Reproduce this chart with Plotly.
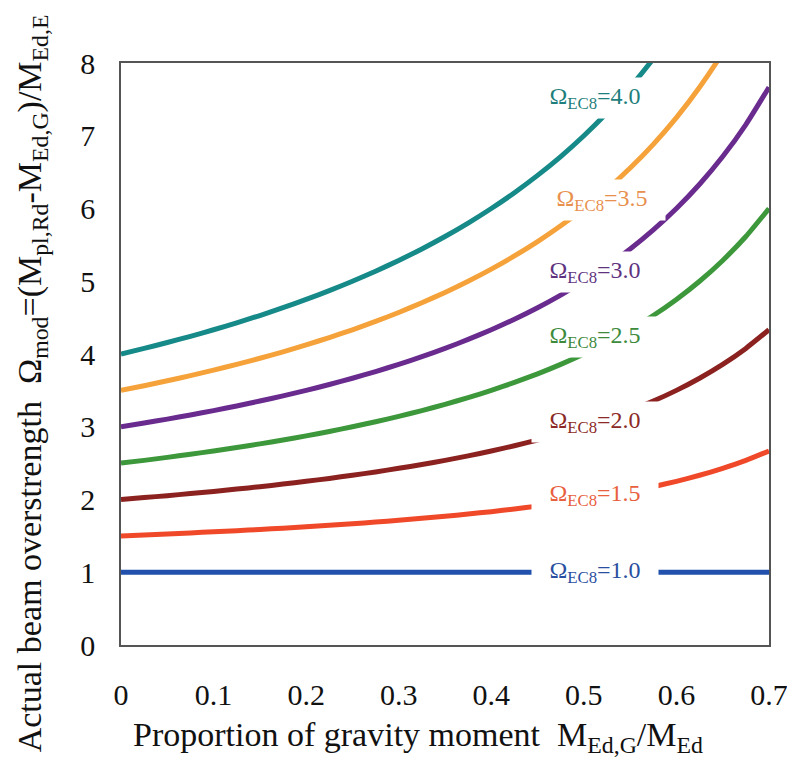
import plotly.graph_objects as go

# Proportion of gravity moment M_Ed,G / M_Ed
x_vals = [0, 0.025, 0.05, 0.075, 0.10, 0.125, 0.15, 0.175, 0.20, 0.225, 0.25, 0.275, 0.30, 0.325,
          0.35, 0.375, 0.40, 0.425, 0.45, 0.475, 0.50, 0.525, 0.55, 0.575, 0.60, 0.625, 0.65, 0.675, 0.70]

# Actual beam overstrength for each Omega_EC8 curve
omega_10 = [1.0] * 29
omega_15 = [1.5, 1.513, 1.526, 1.541, 1.556, 1.571, 1.588, 1.606, 1.625, 1.645, 1.667, 1.690, 1.714, 1.741,
            1.769, 1.8, 1.833, 1.870, 1.909, 1.952, 2.0, 2.053, 2.111, 2.176, 2.25, 2.333, 2.429, 2.538, 2.667]
omega_20 = [2.0, 2.026, 2.053, 2.081, 2.111, 2.143, 2.176, 2.212, 2.25, 2.290, 2.333, 2.379, 2.429, 2.481,
            2.538, 2.6, 2.667, 2.739, 2.818, 2.905, 3.0, 3.105, 3.222, 3.353, 3.5, 3.667, 3.857, 4.077, 4.333]
omega_25 = [2.5, 2.538, 2.579, 2.622, 2.667, 2.714, 2.765, 2.818, 2.875, 2.935, 3.0, 3.069, 3.143, 3.222,
            3.308, 3.4, 3.5, 3.609, 3.727, 3.857, 4.0, 4.158, 4.333, 4.529, 4.75, 5.0, 5.286, 5.615, 6.0]
omega_30 = [3.0, 3.051, 3.105, 3.162, 3.222, 3.286, 3.353, 3.424, 3.5, 3.581, 3.667, 3.759, 3.857, 3.963,
            4.077, 4.2, 4.333, 4.478, 4.636, 4.810, 5.0, 5.211, 5.444, 5.706, 6.0, 6.333, 6.714, 7.154, 7.667]
omega_35 = [3.5, 3.564, 3.632, 3.703, 3.778, 3.857, 3.941, 4.030, 4.125, 4.226, 4.333, 4.448, 4.571, 4.704,
            4.846, 5.0, 5.167, 5.348, 5.545, 5.762, 6.0, 6.263, 6.556, 6.882, 7.25, 7.667, 8.143, 8.692, 9.333]
omega_40 = [4.0, 4.077, 4.158, 4.243, 4.333, 4.429, 4.529, 4.636, 4.75, 4.871, 5.0, 5.138, 5.286, 5.444,
            5.615, 5.8, 6.0, 6.217, 6.455, 6.714, 7.0, 7.316, 7.667, 8.059, 8.5, 9.0, 9.571, 10.231, 11.0]

labels = ["1.0", "1.5", "2.0", "2.5", "3.0", "3.5", "4.0"]
series = [omega_10, omega_15, omega_20, omega_25, omega_30, omega_35, omega_40]
colors = ["#2150ad", "#f0492a", "#8b2220", "#3d983c", "#6a2b8f", "#f5a23a", "#168a88"]
label_colors = ["#2a4fa0", "#e8603e", "#8b2a26", "#3d8a3c", "#5e3480", "#e8904e", "#1f7f7c"]
label_x = [0.512, 0.512, 0.512, 0.512, 0.512, 0.520, 0.512]
label_y = [1.0, 2.06, 3.07, 4.23, 5.13, 6.12, 7.52]

FONT = "Liberation Serif, Times New Roman, serif"

fig = go.Figure()
for name, ys, c in zip(labels, series, colors):
    fig.add_trace(go.Scatter(
        x=x_vals, y=ys, mode="lines",
        line=dict(color=c, width=5, shape="spline", smoothing=0.5),
        name=name, showlegend=False, hoverinfo="skip"))

for name, lx, ly, c in zip(labels, label_x, label_y, label_colors):
    fig.add_annotation(
        x=lx, y=ly, xref="x", yref="y",
        text="Ω<sub>EC8</sub>=" + name, showarrow=False,
        font=dict(family=FONT, size=24, color=c),
        bgcolor="white", borderpad=5, width=116)

fig.add_annotation(
    x=0.458, y=-0.158, xref="paper", yref="paper", xanchor="center", yanchor="middle",
    text="Proportion of gravity moment  M<sub>Ed,G</sub>/M<sub>Ed</sub>",
    showarrow=False, font=dict(family=FONT, size=34, color="#111"))
fig.add_annotation(
    x=-0.137, y=0.45, xref="paper", yref="paper", textangle=-90,
    xanchor="center", yanchor="middle",
    text="Actual beam overstrength  Ω<sub>mod</sub>=(M<sub>pl,Rd</sub>-M<sub>Ed,G</sub>)/M<sub>Ed,E</sub>",
    showarrow=False, font=dict(family=FONT, size=34, color="#111"))

fig.update_xaxes(
    range=[0, 0.7], tickvals=[0, 0.1, 0.2, 0.3, 0.4, 0.5, 0.6, 0.7],
    ticktext=["0", "0.1", "0.2", "0.3", "0.4", "0.5", "0.6", "0.7"],
    showgrid=False, zeroline=False, showline=True, linecolor="#555", linewidth=1.5,
    mirror=True, ticks="", ticklabelstandoff=22, automargin=False, ticklabeloverflow="allow",
    tickfont=dict(family=FONT, size=30, color="#111"))
fig.update_yaxes(
    range=[0, 8], tickvals=[0, 1, 2, 3, 4, 5, 6, 7, 8],
    showgrid=False, zeroline=False, showline=True, linecolor="#555", linewidth=1.5,
    mirror=True, ticks="", ticklabelstandoff=18, automargin=False,
    tickfont=dict(family=FONT, size=30, color="#111"))

fig.update_layout(
    width=787, height=760,
    margin=dict(l=121, r=18, t=63, b=115),
    paper_bgcolor="white", plot_bgcolor="white")

fig.write_html("out.html", config={"displayModeBar": False},
               post_script="document.body.style.margin='0';")
